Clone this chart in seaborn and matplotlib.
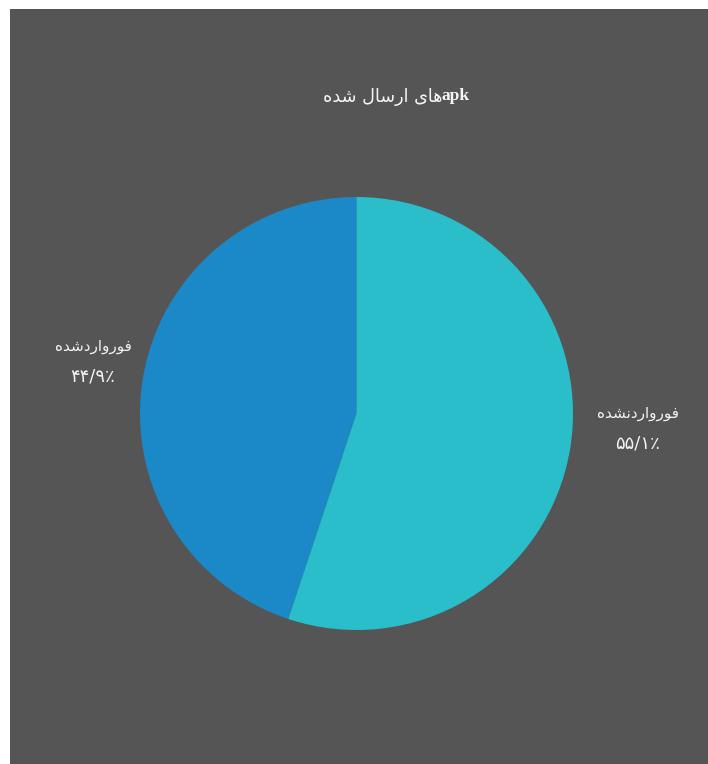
import matplotlib
matplotlib.use("Agg")
import matplotlib.pyplot as plt
import seaborn as sns

sns.set_theme(style="white")
plt.rcParams['font.family'] = ['DejaVu Sans']

# Data (Persian labels pre-shaped into presentation forms, visual order)
categories = ["\uFEE9\uFEAA\uFEB7\uFEA9\uFEAD\uFE8D\uFEED\uFEAD\uFEEE\uFED3",          # فورواردشده
              "\uFEE9\uFEAA\uFEB8\uFEE7\uFEA9\uFEAD\uFE8D\uFEED\uFEAD\uFEEE\uFED3"]    # فورواردنشده
values = [44.9, 55.1]
value_labels = ["\u06F4\u06F4/\u06F9\u066A", "\u06F5\u06F5/\u06F1\u066A"]
colors = ["#1b88c8", "#2abeca"]
title_fa = "\uFEE9\uFEAA\uFEB7 \uFEDD\uFE8E\uFEB3\uFEAD\uFE8D \uFEEF\uFE8E\uFEEB"
title_en = "apk"

W, H = 708, 764
fig = plt.figure(figsize=(W / 100, H / 100), dpi=100)
fig.patch.set_facecolor("white")

# gray panel
bg = fig.add_axes([10 / W, 0, 1 - 10 / W, 1 - 9 / H])
bg.set_facecolor("#555555")
bg.set_xticks([]); bg.set_yticks([])
for s in bg.spines.values():
    s.set_visible(False)

cx, cy, r = 356.5, 413.5, 216.5
ax = fig.add_axes([(cx - r) / W, (H - cy - r) / H, 2 * r / W, 2 * r / H])
ax.set_facecolor("none")
ax.pie(values, colors=colors, startangle=90, counterclock=True, radius=1,
       wedgeprops=dict(linewidth=0))
ax.set_xlim(-1, 1); ax.set_ylim(-1, 1)
ax.set_aspect("equal")
ax.axis("off")

label_pos = [(-1.217, 0.238), (1.300, -0.067)]
dline = 15 / r
for (x, y), cat, vl in zip(label_pos, categories, value_labels):
    ax.text(x, y + dline, cat, ha="center", va="center", color="#f2f2f2",
            fontsize=11, clip_on=False)
    ax.text(x, y - dline, vl, ha="center", va="center", color="#f2f2f2",
            fontsize=13, clip_on=False)

fig.text(442 / W, 1 - 97 / H, title_fa, ha="right", va="center",
         color="#f5f5f5", fontsize=12.7)
fig.text(442 / W, 1 - 96 / H, title_en, ha="left", va="center",
         color="#f5f5f5", fontsize=12.5, fontweight="bold", family=["Liberation Serif"])

fig.savefig("out.png", dpi=100, facecolor=fig.get_facecolor())
